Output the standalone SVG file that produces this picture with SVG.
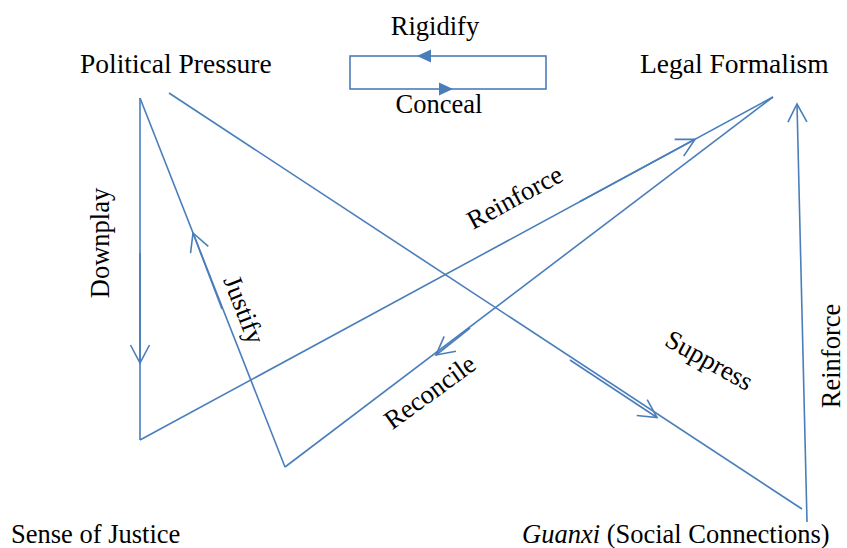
<svg xmlns="http://www.w3.org/2000/svg" width="847" height="548" viewBox="0 0 847 548">
<style>
text{font-family:"Liberation Serif","Times New Roman",serif;fill:#000}
.node{font-size:27.5px}
.nodeb{font-size:26.5px}
.lbl{font-size:26.5px}
.ln{fill:none;stroke:#4A7EBB;stroke-width:1.6}
.ov{fill:none;stroke:#4A7EBB;stroke-width:1.6}
.tri{fill:#4A7EBB;stroke:none}
</style>
<defs>
<marker id="open" viewBox="-20 -12 24 24" markerWidth="24" markerHeight="24" refX="0" refY="0" orient="auto" markerUnits="userSpaceOnUse" overflow="visible">
<path d="M-18,-9.5 L0,0 L-18,9.5" fill="none" stroke="#4A7EBB" stroke-width="1.6"/>
</marker>
</defs>
<rect width="847" height="548" fill="#fff"/>
<g id="connectors">
<rect class="ln" x="350" y="56" width="196" height="33" stroke-width="2"/>
<polygon class="tri" points="417,56 431,49.5 431,62.5"/>
<polygon class="tri" points="453,89 439,82.5 439,95.5"/>
<line class="ln" x1="140" y1="98" x2="140" y2="440"/>
<path class="ov" d="M140,253 L140,363" marker-end="url(#open)"/>
<line class="ln" x1="140" y1="98" x2="285" y2="467"/>
<path class="ov" d="M222,309 L193,233" marker-end="url(#open)"/>
<line class="ln" x1="140" y1="440" x2="773" y2="97"/>
<path class="ov" d="M580,201.5 L695,139.2" marker-end="url(#open)"/>
<line class="ln" x1="285" y1="467" x2="773" y2="97"/>
<path class="ov" d="M470,328 L436,355" marker-end="url(#open)"/>
<line class="ln" x1="169" y1="93" x2="802" y2="509"/>
<path class="ov" d="M570,360 L657,417.5" marker-end="url(#open)"/>
<line class="ln" x1="807" y1="522" x2="797" y2="104" marker-end="url(#open)"/>
</g>
<g id="political-pressure"><text class="node" x="80" y="73">Political Pressure</text></g>
<g id="legal-formalism"><text class="node" x="640" y="73">Legal Formalism</text></g>
<g id="sense-of-justice"><text class="nodeb" x="11" y="543">Sense of Justice</text></g>
<g id="guanxi"><text class="nodeb" x="522" y="543"><tspan font-style="italic">Guanxi</tspan> (Social Connections)</text></g>
<g id="labels">
<text class="lbl" x="435" y="35" text-anchor="middle">Rigidify</text>
<text class="lbl" x="439" y="113" text-anchor="middle">Conceal</text>
<text class="lbl" text-anchor="middle" transform="translate(109,243) rotate(-90)">Downplay</text>
<text class="lbl" text-anchor="middle" transform="translate(236,313) rotate(68.6)">Justify</text>
<text class="lbl" text-anchor="middle" transform="translate(519,205) rotate(-28.5)">Reinforce</text>
<text class="lbl" text-anchor="middle" transform="translate(435,399) rotate(-36)">Reconcile</text>
<text class="lbl" text-anchor="middle" transform="translate(705,368) rotate(29)">Suppress</text>
<text class="lbl" text-anchor="middle" transform="translate(840,356) rotate(-90)">Reinforce</text>
</g>
</svg>
